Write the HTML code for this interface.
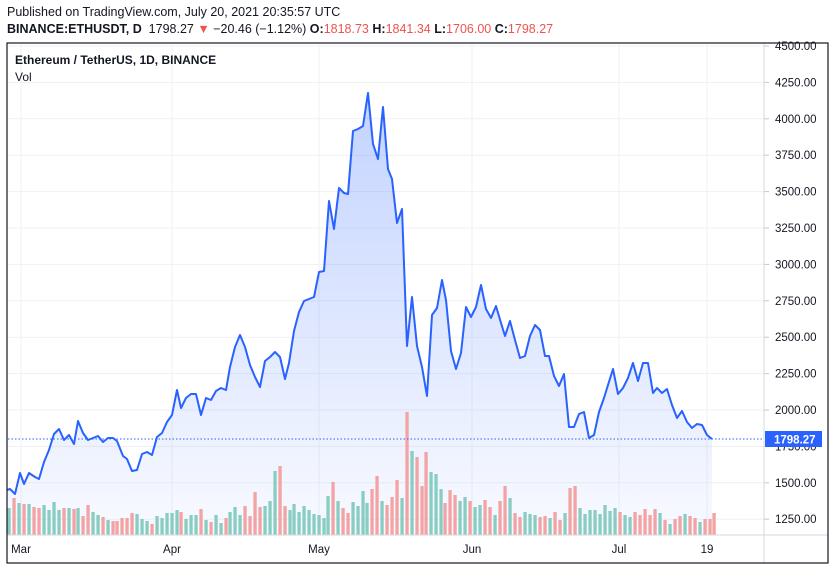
<!DOCTYPE html>
<html><head><meta charset="utf-8">
<style>
body{margin:0;background:#fff;width:835px;height:570px;overflow:hidden;font-family:"Liberation Sans",sans-serif;color:#131722}
.t{position:absolute;font-size:12px;white-space:nowrap}
.r{color:#ef5350}
</style></head><body>
<div class="t" style="left:7px;top:5px;font-size:12.5px">Published on TradingView.com, July 20, 2021 20:35:57 UTC</div>
<div class="t" style="left:7px;top:22px;font-size:12.5px"><b>BINANCE:ETHUSDT, D</b>&nbsp; 1798.27 <span class="r">▼</span> −20.46 (−1.12%) <b>O:</b><span class="r">1818.73</span> <b>H:</b><span class="r">1841.34</span> <b>L:</b><span class="r">1706.00</span> <b>C:</b><span class="r">1798.27</span></div>
<svg id="s" width="835" height="570" style="position:absolute;left:0;top:0" xmlns="http://www.w3.org/2000/svg"></svg>
<div class="t" style="left:15px;top:53px;font-weight:bold">Ethereum / TetherUS, 1D, BINANCE</div>
<div class="t" style="left:15px;top:70px">Vol</div>
<script>
var s='';
s+='<defs><linearGradient id="g" x1="0" y1="0" x2="0" y2="1"><stop offset="0" stop-color="#2962ff" stop-opacity="0.28"/><stop offset="1" stop-color="#2962ff" stop-opacity="0.03"/></linearGradient></defs>';
var lv=['4500.00','4250.00','4000.00','3750.00','3500.00','3250.00','3000.00','2750.00','2500.00','2250.00','2000.00','1750.00','1500.00','1250.00'];
for(var i=0;i<14;i++){var y=46+i*36.4;s+='<line x1="8" x2="764" y1="'+y+'" y2="'+y+'" stroke="#f0f1f3"/>';s+='<line x1="764" x2="769" y1="'+y+'" y2="'+y+'" stroke="#c8c9cc"/>';s+='<text x="775" y="'+(y+4)+'" font-size="11.5" fill="#131722" font-family="Liberation Sans">'+lv[i]+'</text>';}
var vx=[21,172,319,472,619,707],vl=['Mar','Apr','May','Jun','Jul','19'];
for(i=0;i<6;i++){s+='<line x1="'+vx[i]+'" x2="'+vx[i]+'" y1="44" y2="535" stroke="#f0f1f3"/>';s+='<text x="'+vx[i]+'" y="553" font-size="11.5" text-anchor="middle" fill="#131722" font-family="Liberation Sans">'+vl[i]+'</text>';}
var p=[[7,490],[10,489],[15,494],[20,473],[24,484],[29,473],[35,477],[39,479],[44,462],[49,450],[54,434],[59,429],[64,440],[69,435],[74,444],[78,421],[83,433],[88,440],[93,438],[98,436],[103,442],[108,438],[113,438],[117,441],[123,456],[127,459],[132,471],[137,470],[142,454],[147,452],[152,455],[157,437],[162,433],[167,422],[172,415],[177,390],[181,408],[186,398],[191,394],[196,394],[201,415],[206,398],[211,400],[216,391],[221,388],[226,390],[230,367],[235,347],[240,335],[245,347],[250,365],[255,377],[260,387],[265,361],[270,357],[275,352],[280,357],[285,379],[289,363],[294,331],[299,312],[304,301],[309,299],[314,297],[319,272],[324,271],[329,201],[334,229],[339,188],[344,193],[348,194],[353,131],[358,129],[363,126],[368,93],[373,144],[378,159],[383,107],[388,169],[392,179],[397,223],[402,209],[407,346],[412,297],[417,346],[422,367],[427,396],[432,315],[437,308],[442,280],[446,300],[451,351],[456,369],[461,353],[466,307],[471,317],[476,307],[481,285],[486,309],[491,318],[496,306],[501,323],[505,336],[510,321],[515,340],[520,358],[525,356],[530,336],[535,325],[540,330],[545,356],[549,356],[554,376],[559,386],[564,374],[569,427],[574,427],[579,414],[584,412],[589,438],[594,435],[599,412],[604,398],[608,385],[613,369],[618,394],[623,388],[628,378],[633,363],[638,381],[643,363],[648,363],[653,393],[657,388],[662,393],[667,389],[672,405],[677,418],[682,411],[687,422],[692,428],[697,424],[702,425],[707,435],[712,439]];
var d=p.map(function(q){return q[0]+','+q[1]}).join(' ');
s+='<polygon points="7,535 '+d+' 712,535" fill="url(#g)"/>';
var G='#89cdc2',R='#f3a3a3';
var v=[[9,27,G],[14,37,R],[19,32,G],[24,31,R],[29,31,G],[34,28,R],[39,27,R],[44,30,G],[49,25,G],[54,33,G],[59,25,G],[64,27,R],[69,27,G],[74,26,R],[78,27,G],[83,19,R],[88,30,R],[93,23,G],[98,20,G],[103,18,R],[108,15,G],[113,14,R],[117,14,R],[122,17,R],[127,17,R],[132,22,R],[137,21,G],[142,16,G],[147,14,G],[152,11,R],[157,19,G],[162,17,G],[167,22,G],[172,22,G],[177,25,G],[181,23,R],[186,16,G],[191,20,G],[196,20,G],[201,26,R],[206,15,G],[211,13,R],[216,20,G],[221,12,G],[226,17,R],[230,23,G],[235,28,G],[240,20,G],[245,29,R],[250,19,R],[255,43,R],[260,28,R],[265,29,G],[270,34,G],[275,64,G],[280,69,R],[285,29,R],[290,25,G],[294,31,G],[299,23,G],[304,29,G],[309,25,G],[314,21,G],[319,20,G],[324,17,G],[328,39,G],[333,53,R],[338,34,G],[343,27,R],[348,22,R],[353,33,G],[358,29,G],[363,44,G],[367,32,G],[372,46,R],[377,59,R],[382,34,G],[387,30,R],[392,38,R],[397,55,R],[402,37,G],[407,123,R],[412,84,G],[417,78,R],[422,49,R],[426,83,R],[431,63,G],[436,61,G],[441,46,G],[445,32,R],[450,45,R],[455,40,R],[460,34,G],[465,38,G],[470,34,R],[475,28,G],[480,30,G],[485,35,R],[490,28,R],[495,20,G],[500,34,R],[505,49,R],[510,37,G],[515,22,R],[520,18,R],[525,23,G],[530,21,G],[535,20,G],[540,18,R],[545,19,R],[550,17,G],[555,23,R],[560,15,R],[565,22,G],[570,47,R],[575,49,R],[580,27,G],[585,21,G],[590,25,G],[595,25,G],[600,21,G],[605,30,G],[610,24,G],[615,27,G],[620,23,R],[625,20,G],[630,18,G],[635,23,R],[640,20,R],[645,26,R],[650,20,R],[655,26,R],[660,22,G],[665,15,R],[670,11,G],[675,16,R],[680,19,R],[685,21,G],[690,19,R],[695,17,R],[700,13,G],[705,16,R],[710,16,R],[714,22,R]];
v.forEach(function(b){s+='<rect x="'+(b[0]-1.6)+'" y="'+(535-b[1])+'" width="3.3" height="'+b[1]+'" fill="'+b[2]+'"/>';});
s+='<polyline points="'+d+'" fill="none" stroke="#2962ff" stroke-width="2" stroke-linejoin="round"/>';
s+='<line x1="8" x2="764" y1="439" y2="439" stroke="#2962ff" stroke-width="1" stroke-dasharray="1.5,2"/>';
s+='<line x1="764" x2="764" y1="43" y2="563" stroke="#d6d7da"/>';
s+='<line x1="7" x2="828" y1="535" y2="535" stroke="#d6d7da"/>';
s+='<rect x="7" y="43" width="821" height="520" fill="none" stroke="#131722" stroke-width="1.2"/>';
s+='<rect x="765" y="431" width="57" height="16" fill="#2962ff"/>';
s+='<text x="774" y="443.5" font-size="11.5" font-weight="bold" fill="#fff" font-family="Liberation Sans">1798.27</text>';
document.getElementById('s').innerHTML=s;
</script>
</body></html>
